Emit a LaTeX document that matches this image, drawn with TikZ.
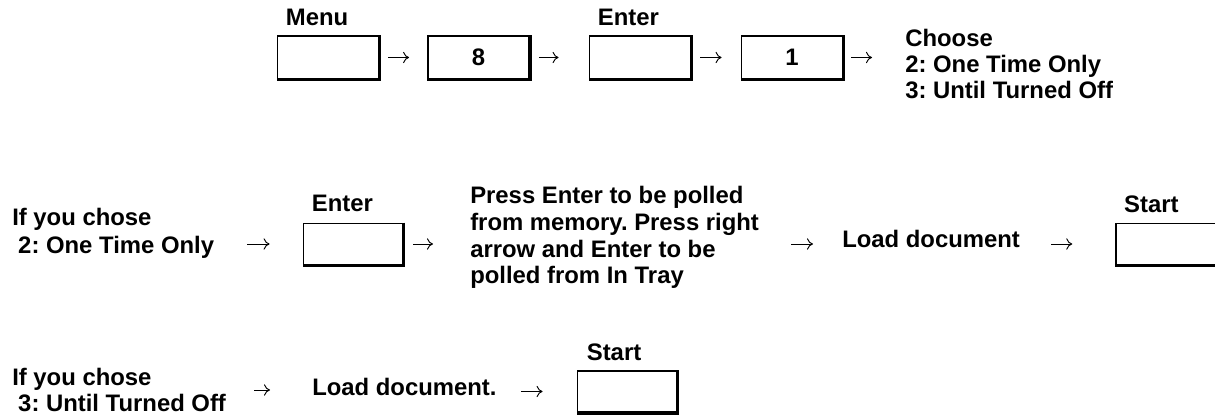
\documentclass[tikz,border=0pt]{standalone}
\usepackage{fontspec}
\setmainfont{Liberation Sans}
\usepackage{tikz}
\usetikzlibrary{arrows.meta, positioning, calc}
\frenchspacing
\tikzset{
  tecla/.style={rectangle, draw, line width=1.1pt, inner sep=0pt,
                minimum width=74.5pt, minimum height=31pt},
  sombra/.style={line width=2.6pt, line join=miter},
  rotulo/.style={inner sep=0pt},
  txt/.style={inner sep=0pt, align=left, anchor=west},
  seta/.style={-{To[length=4.5pt, width=8.5pt]}, line width=0.7pt}
}
\begin{document}
\begin{tikzpicture}[x=0.75pt, y=-0.75pt, font=\fontsize{17.9pt}{19.5pt}\selectfont\bfseries]
  \useasboundingbox (0,0) rectangle (1215,416);
  \clip (0,0) rectangle (1215,416);

  \begin{scope}[tecla/.append style={minimum width=76pt, minimum height=32pt}]
    \node[tecla] (menu) at (328,57.5) {};
    \node[tecla] (k8) at (478.5,57.5) {8};
    \node[tecla] (enter1) at (640,57.5) {};
    \node[tecla] (k1) at (792,57.5) {1};
  \end{scope}
  \node[txt] (choose) at (905,63.5) {Choose\\2: One Time Only\\3: Until Turned Off};

  \node[txt, font=\fontsize{17.9pt}{21pt}\selectfont\bfseries] (elegi2) at (12,233) {If you chose\\\hspace*{.25em}2: One Time Only};
  \node[tecla] (enter2) at (353,244) {};
  \node[txt, font=\fontsize{17.9pt}{20pt}\selectfont\bfseries] (sondeo) at (470,237.5) {Press Enter to be polled\\from memory. Press right\\arrow and Enter to be\\polled from In Tray};
  \node[txt] (carga2) at (842,238.5) {Load document};
  \node[tecla, minimum width=78pt] (start2) at (1168,244) {};

  \node[txt] (elegi3) at (12,390) {If you chose\\\hspace*{.25em}3: Until Turned Off};
  \node[txt] (carga3) at (312,386.5) {Load document.};
  \node[tecla] (start3) at (627,391.5) {};

  \foreach \k in {menu, k8, enter1, k1, enter2, start2, start3}
    \draw[sombra] (\k.north east) -- (\k.south east) -- (\k.south west);

  \node[rotulo, above right=7pt and 6.75pt of menu.north west] (lmenu) {Menu};
  \node[rotulo, above right=7pt and 6.75pt of enter1.north west] (lenter1) {Enter};
  \node[rotulo, above right=8pt and 6.75pt of enter2.north west] (lenter2) {Enter};
  \node[rotulo, above right=7pt and 6.5pt of start2.north west] (lstart2) {Start};
  \node[rotulo, above right=7pt and 7.5pt of start3.north west] (lstart3) {Start};

  \draw[seta, shorten <=6.75pt, shorten >=13.5pt] (menu) -- (k8);
  \draw[seta, shorten <=6.75pt, shorten >=22.5pt] (k8) -- (enter1);
  \draw[seta, shorten <=6.75pt, shorten >=14.25pt] (enter1) -- (k1);
  \draw[seta, shorten <=6pt, shorten >=24.75pt] (k1.east) -- (k1.east -| choose.west);

  \draw[seta, shorten <=24.75pt, shorten >=24.75pt] (elegi2.east |- enter2) -- (enter2.west);
  \draw[seta, shorten <=7.5pt, shorten >=27.75pt] (enter2.east) -- (enter2.east -| sondeo.west);
  \draw[seta, shorten <=24pt, shorten >=21.75pt] (sondeo.east |- enter2) -- (carga2.west |- enter2);
  \draw[seta, shorten <=23.25pt, shorten >=32.25pt] (carga2.east |- start2) -- (start2.west);

  \draw[seta, shorten <=21pt, shorten >=31.5pt] (elegi3.east) -- (elegi3.east -| carga3.west);
  \draw[seta, shorten <=18pt, shorten >=25.5pt] (carga3.east |- start3) -- (start3.west);
\end{tikzpicture}
\end{document}
